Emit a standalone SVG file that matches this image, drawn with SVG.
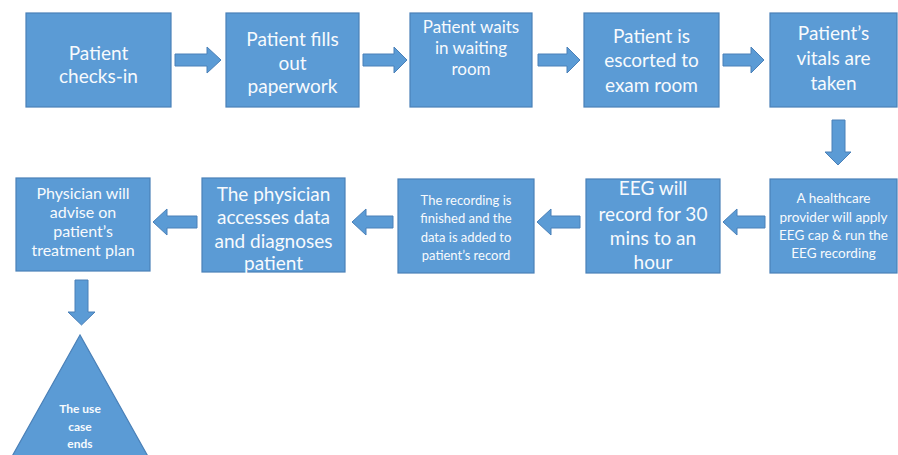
<svg xmlns="http://www.w3.org/2000/svg" width="898" height="455" viewBox="0 0 898 455">
<style>
.box{fill:#5B9BD5;stroke:#4A80B8;stroke-width:1.2}
.arr{fill:#5B9BD5;stroke:#4A80B8;stroke-width:1}
text{font-family:Lato,"Liberation Sans",sans-serif;fill:#F7FAFD;text-anchor:middle}
.l{font-size:19px}
.m{font-size:17px}
.p{font-size:16px}
.s{font-size:13.5px}
.r{font-size:13px}
.t{font-size:12px;font-weight:bold}
</style>
<rect width="898" height="455" fill="#FFFFFF"/>
<g id="n1"><rect class="box" x="26" y="13" width="145" height="94"/>
<text class="l" x="98.5" y="60">Patient</text><text class="l" x="98.5" y="83">checks-in</text></g>
<g id="n2"><rect class="box" x="226" y="13" width="133" height="94"/>
<text class="l" x="292.5" y="46">Patient fills</text><text class="l" x="292.5" y="70">out</text><text class="l" x="292.5" y="93">paperwork</text></g>
<g id="n3"><rect class="box" x="410" y="13" width="122" height="94"/>
<text class="m" x="471" y="33">Patient waits</text><text class="m" x="471" y="54">in waiting</text><text class="m" x="471" y="75">room</text></g>
<g id="n4"><rect class="box" x="584" y="13" width="135" height="94"/>
<text class="l" x="651.5" y="43">Patient is</text><text class="l" x="651.5" y="67">escorted to</text><text class="l" x="651.5" y="92">exam room</text></g>
<g id="n5"><rect class="box" x="770" y="13" width="127" height="94"/>
<text class="l" x="833.5" y="40">Patient’s</text><text class="l" x="833.5" y="65">vitals are</text><text class="l" x="833.5" y="90">taken</text></g>
<g id="n6"><rect class="box" x="770" y="179" width="127" height="94"/>
<text class="s" x="833.5" y="203">A healthcare</text><text class="s" x="833.5" y="222">provider will apply</text><text class="s" x="833.5" y="240">EEG cap &amp; run the</text><text class="s" x="833.5" y="258">EEG recording</text></g>
<g id="n7"><rect class="box" x="586" y="179" width="134" height="94"/>
<text class="l" x="653" y="195">EEG will</text><text class="l" x="653" y="221">record for 30</text><text class="l" x="653" y="245">mins to an</text><text class="l" x="653" y="269">hour</text></g>
<g id="n8"><rect class="box" x="398" y="179" width="136" height="94"/>
<text class="r" x="466" y="205">The recording is</text><text class="r" x="466" y="223">finished and the</text><text class="r" x="466" y="242">data is added to</text><text class="r" x="466" y="260">patient’s record</text></g>
<g id="n9"><rect class="box" x="202" y="178" width="143" height="94"/>
<text class="l" x="273.5" y="201">The physician</text><text class="l" x="273.5" y="224">accesses data</text><text class="l" x="273.5" y="248">and diagnoses</text><text class="l" x="273.5" y="270">patient</text></g>
<g id="n10"><rect class="box" x="16" y="178" width="134" height="93"/>
<text class="p" x="83" y="199">Physician will</text><text class="p" x="83" y="218">advise on</text><text class="p" x="83" y="237">patient’s</text><text class="p" x="83" y="256">treatment plan</text></g>
<g id="n11"><polygon class="box" points="80,335 10,460 150,460"/>
<text class="t" x="80" y="413">The use</text><text class="t" x="80" y="431">case</text><text class="t" x="80" y="448">ends</text></g>
<g id="connectors">
<path class="arr" d="M175,54 H207 V47 L221,60 L207,73 V66 H175 Z"/>
<path class="arr" d="M363,54 H394 V47 L407,60 L394,73 V66 H363 Z"/>
<path class="arr" d="M538,54 H567 V47 L580,60 L567,73 V66 H538 Z"/>
<path class="arr" d="M723,54 H751 V47 L764,60 L751,73 V66 H723 Z"/>
<path class="arr" d="M832,120 H845 V152 H851 L838,165 L825,152 H832 Z"/>
<path class="arr" d="M765,216 H737 V209 L723,222 L737,235 V228 H765 Z"/>
<path class="arr" d="M580,216 H551 V209 L537,222 L551,235 V228 H580 Z"/>
<path class="arr" d="M393,216 H366 V209 L352,222 L366,235 V228 H393 Z"/>
<path class="arr" d="M197,216 H167 V209 L153,222 L167,235 V228 H197 Z"/>
<path class="arr" d="M75,280 H88 V312 H95 L81.5,325 L68,312 H75 Z"/>
</g>
</svg>
